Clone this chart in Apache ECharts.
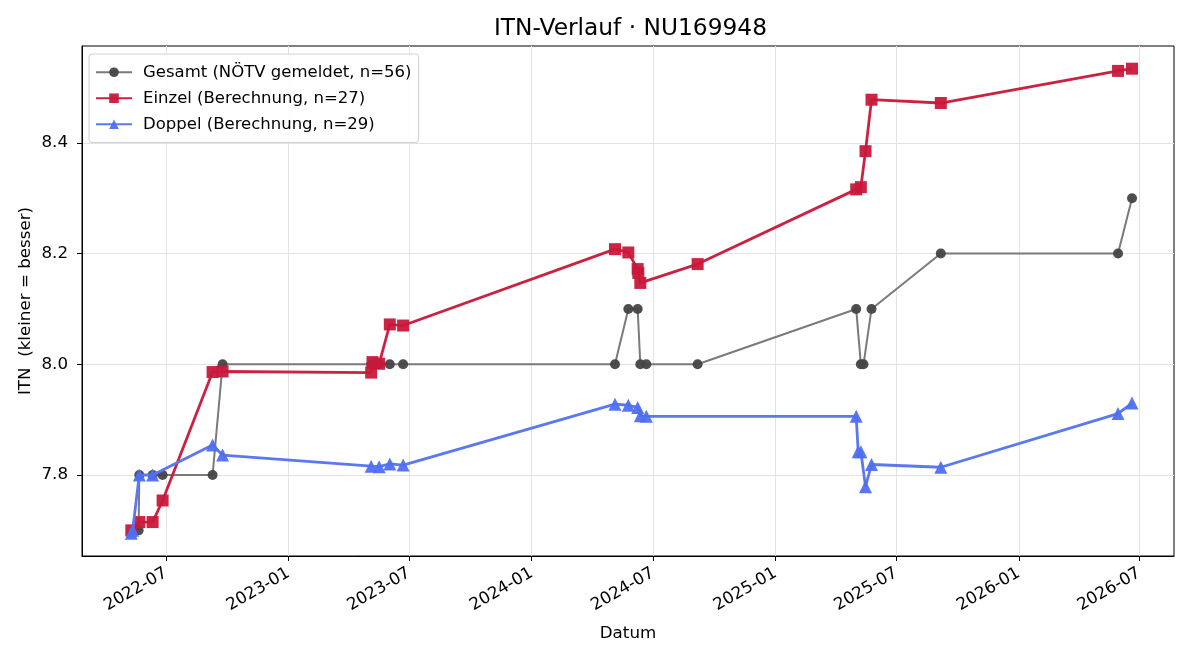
<!DOCTYPE html>
<html>
<head>
<meta charset="utf-8">
<script src="https://cdn.jsdelivr.net/npm/echarts@6/dist/echarts.min.js"></script>
<style>
  html, body { margin: 0; padding: 0; background: #fff; }
  #chart { width: 1200px; height: 660px; }
</style>
</head>
<body>
<div id="chart"></div>
<script>
// Gesamt (NÖTV gemeldet)
const gesamtDates = ['2022-05-21', '2022-05-22', '2022-06-11', '2022-06-26', '2022-09-09', '2022-09-24',
  '2023-05-05', '2023-05-17', '2023-06-02', '2023-06-22', '2024-05-05', '2024-05-25', '2024-06-08',
  '2024-06-12', '2024-06-21', '2024-09-06', '2025-05-02', '2025-05-09', '2025-05-13', '2025-05-25',
  '2025-09-06', '2026-05-30', '2026-06-20'];
const gesamtValues = [7.7, 7.8, 7.8, 7.8, 7.8, 8.0,
  8.0, 8.0, 8.0, 8.0, 8.0, 8.1, 8.1,
  8.0, 8.0, 8.0, 8.1, 8.0, 8.0, 8.1,
  8.2, 8.2, 8.3];

// Einzel (Berechnung)
const einzelDates = ['2022-05-10', '2022-05-22', '2022-06-11', '2022-06-26', '2022-09-09', '2022-09-24',
  '2023-05-05', '2023-05-07', '2023-05-17', '2023-06-02', '2023-06-22', '2024-05-05', '2024-05-25',
  '2024-06-08', '2024-06-09', '2024-06-12', '2024-09-06', '2025-05-02', '2025-05-09', '2025-05-16',
  '2025-05-25', '2025-09-06', '2026-05-30', '2026-06-20'];
const einzelValues = [7.700, 7.715, 7.715, 7.754, 7.986, 7.987,
  7.985, 8.004, 8.001, 8.072, 8.070, 8.208, 8.202,
  8.172, 8.165, 8.147, 8.181, 8.316, 8.320, 8.385,
  8.478, 8.472, 8.530, 8.534];

// Doppel (Berechnung)
const doppelDates = ['2022-05-10', '2022-05-12', '2022-05-22', '2022-06-11', '2022-09-09', '2022-09-24',
  '2023-05-05', '2023-05-17', '2023-06-02', '2023-06-22', '2024-05-05', '2024-05-25', '2024-06-08',
  '2024-06-12', '2024-06-21', '2025-05-02', '2025-05-05', '2025-05-09', '2025-05-16', '2025-05-25',
  '2025-09-06', '2026-05-30', '2026-06-20'];
const doppelValues = [7.695, 7.700, 7.800, 7.800, 7.854, 7.836,
  7.816, 7.815, 7.820, 7.818, 7.928, 7.926, 7.922,
  7.907, 7.906, 7.906, 7.842, 7.842, 7.779, 7.819,
  7.814, 7.911, 7.930];

const xTicks = ['2022-07-01', '2023-01-01', '2023-07-01', '2024-01-01', '2024-07-01',
  '2025-01-01', '2025-07-01', '2026-01-01', '2026-07-01'];
const yTicks = [7.8, 8.0, 8.2, 8.4];

function ts(s) {
  const p = s.split('-').map(Number);
  return new Date(p[0], p[1] - 1, p[2]).getTime();
}
function pairs(dates, values) {
  return dates.map((d, i) => [ts(d), values[i]]);
}
function monthLabel(v) {
  const d = new Date(v);
  const m = d.getMonth() + 1;
  return d.getFullYear() + '-' + (m < 10 ? '0' + m : m);
}

const xTickValues = xTicks.map(ts);
const font = 'DejaVu Sans';
const fs = 16.7;

const chart = echarts.init(document.getElementById('chart'), null, {renderer: 'canvas'});

chart.setOption({
  animation: false,
  backgroundColor: '#fff',
  textStyle: {fontFamily: font},
  title: {
    text: 'ITN-Verlauf · NU169948',
    left: 494,
    top: 17,
    padding: 0,
    textStyle: {fontFamily: font, fontSize: 23.3, fontWeight: 'normal', color: '#000'}
  },
  legend: {
    orient: 'vertical',
    left: 89,
    top: 54,
    padding: [9, 7, 9, 6],
    itemGap: 7.5,
    itemWidth: 36,
    itemHeight: 12,
    backgroundColor: 'rgba(255,255,255,0.85)',
    borderColor: '#d0d0d0',
    borderWidth: 1,
    borderRadius: 3,
    textStyle: {fontFamily: font, fontSize: 16.5, color: '#000', lineHeight: 18.5, padding: [0, 0, 0, 6]},
    data: ['Gesamt (NÖTV gemeldet, n=56)', 'Einzel (Berechnung, n=27)', 'Doppel (Berechnung, n=29)']
  },
  grid: {
    left: 82,
    right: 26,
    top: 46,
    bottom: 104,
    show: true,
    borderColor: '#000',
    borderWidth: 1
  },
  xAxis: {
    type: 'value',
    min: ts('2022-02-25'),
    max: ts('2026-08-22'),
    name: 'Datum',
    nameLocation: 'middle',
    nameGap: 69,
    nameTextStyle: {fontFamily: font, fontSize: fs, color: '#000'},
    axisLine: {lineStyle: {color: '#000', width: 1}},
    axisTick: {show: true, length: 5, lineStyle: {color: '#000'}, customValues: xTickValues},
    axisLabel: {
      customValues: xTickValues,
      rotate: 30,
      fontFamily: font,
      fontSize: fs,
      color: '#000',
      margin: 16,
      formatter: monthLabel
    },
    splitLine: {show: true, lineStyle: {color: '#e3e3e3', width: 1}, customValues: xTickValues}
  },
  yAxis: {
    type: 'value',
    min: 7.6537,
    max: 8.575,
    name: 'ITN  (kleiner = besser)',
    nameLocation: 'middle',
    nameGap: 48,
    nameMoveOverlap: false,
    nameTextStyle: {fontFamily: font, fontSize: fs, color: '#000'},
    axisLine: {show: true, lineStyle: {color: '#000', width: 1}},
    axisTick: {show: true, length: 5, lineStyle: {color: '#000'}, customValues: yTicks},
    axisLabel: {
      customValues: yTicks,
      fontFamily: font,
      fontSize: fs,
      color: '#000',
      margin: 14,
      formatter: v => v.toFixed(1)
    },
    splitLine: {show: true, lineStyle: {color: '#e3e3e3', width: 1}, customValues: yTicks}
  },
  series: [
    {
      name: 'Gesamt (NÖTV gemeldet, n=56)',
      type: 'line',
      data: pairs(gesamtDates, gesamtValues),
      symbol: 'circle',
      symbolSize: 10,
      lineStyle: {color: '#7a7a7a', width: 2},
      itemStyle: {color: '#444444', opacity: 0.95},
      z: 2
    },
    {
      name: 'Einzel (Berechnung, n=27)',
      type: 'line',
      data: pairs(einzelDates, einzelValues),
      symbol: 'rect',
      symbolSize: 12,
      lineStyle: {color: '#cc2242', width: 2.8},
      itemStyle: {color: '#c8183a', opacity: 0.95},
      z: 3
    },
    {
      name: 'Doppel (Berechnung, n=29)',
      type: 'line',
      data: pairs(doppelDates, doppelValues),
      symbol: 'triangle',
      symbolSize: 13,
      lineStyle: {color: '#5a78f0', width: 2.8},
      itemStyle: {color: '#4f6ff2', opacity: 0.95},
      z: 4
    }
  ]
});
</script>
</body>
</html>
